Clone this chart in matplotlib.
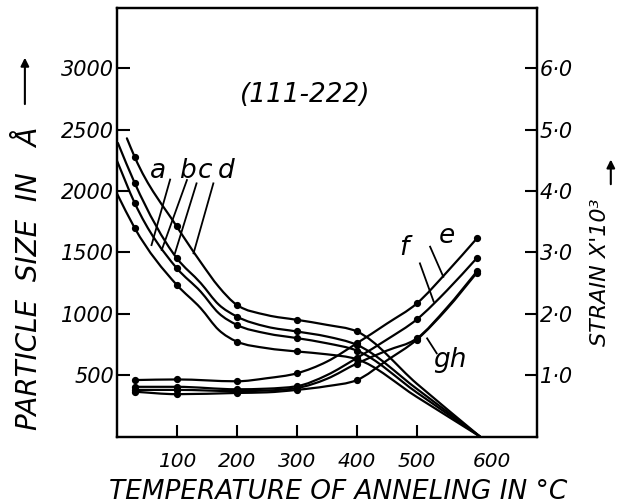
import matplotlib
matplotlib.use("Agg")
import matplotlib.pyplot as plt
import matplotlib.transforms as mtransforms
from matplotlib.path import Path
from matplotlib.patches import PathPatch, FancyArrowPatch

# ---------------- data ----------------
# particle size curves (Angstrom) vs annealing temperature (deg C)
size_x_a = [0, 30, 100, 140, 170, 200, 250, 300, 350, 400, 500, 605]
size_a   = [1985, 1699, 1236, 1045, 868, 774, 720, 693, 670, 630, 322, 0]
size_x_b = [0, 30, 100, 140, 170, 200, 250, 300, 350, 400, 500, 605]
size_b   = [2253, 1903, 1372, 1180, 1005, 910, 840, 802, 760, 700, 358, 0]
size_x_c = [2, 30, 100, 140, 170, 200, 250, 300, 350, 400, 500, 605]
size_c   = [2392, 2066, 1454, 1250, 1075, 978, 895, 856, 815, 747, 388, 0]
size_x_d = [17, 30, 100, 140, 170, 200, 250, 300, 350, 400, 500, 605]
size_d   = [2430, 2278, 1712, 1420, 1220, 1073, 990, 951, 910, 856, 430, 0]
size_marks = [1, 2, 5, 7, 9]          # indices carrying a measured dot

# strain curves (x 10^3)
strain_x = [30, 100, 200, 250, 300, 350, 400, 450, 500, 550, 600]
strain_e = [0.92, 0.93, 0.90, 0.95, 1.03, 1.22, 1.52, 1.84, 2.17, 2.68, 3.23]
strain_f = [0.81, 0.81, 0.77, 0.78, 0.82, 1.00, 1.28, 1.58, 1.91, 2.38, 2.91]
strain_g = [0.76, 0.76, 0.74, 0.75, 0.79, 0.94, 1.19, 1.40, 1.60, 2.10, 2.69]
strain_h = [0.73, 0.69, 0.71, 0.72, 0.76, 0.82, 0.92, 1.24, 1.58, 2.08, 2.67]
strain_marks = [0, 1, 2, 4, 6, 8, 10]

x_ticks = [100, 200, 300, 400, 500, 600]
x_ticklabels = ["100", "200", "300", "400", "500", "600"]
size_ticks = [500, 1000, 1500, 2000, 2500, 3000]
size_ticklabels = ["500", "1000", "1500", "2000", "2500", "3000"]
strain_ticks = [1, 2, 3, 4, 5, 6]
strain_ticklabels = ["1·0", "2·0", "3·0", "4·0", "5·0", "6·0"]


def smooth_path(xs, ys):
    """Monotone cubic (Steffen) Bezier path through the read points."""
    n = len(xs)
    h = [xs[i + 1] - xs[i] for i in range(n - 1)]
    d = [(ys[i + 1] - ys[i]) / h[i] for i in range(n - 1)]
    m = [0.0] * n
    m[0], m[-1] = d[0], d[-1]
    for i in range(1, n - 1):
        if d[i - 1] * d[i] <= 0:
            m[i] = 0.0
        else:
            p = (d[i - 1] * h[i] + d[i] * h[i - 1]) / (h[i - 1] + h[i])
            s = 1 if p > 0 else -1
            m[i] = s * min(abs(p), 2 * abs(d[i - 1]), 2 * abs(d[i]))
    verts = [(xs[0], ys[0])]
    codes = [Path.MOVETO]
    for i in range(n - 1):
        t = h[i] / 3
        verts += [(xs[i] + t, ys[i] + t * m[i]),
                  (xs[i + 1] - t, ys[i + 1] - t * m[i + 1]),
                  (xs[i + 1], ys[i + 1])]
        codes += [Path.CURVE4] * 3
    return Path(verts, codes)


# ---------------- figure ----------------
plt.rcParams['font.family'] = ['DejaVu Sans']
fig = plt.figure(figsize=(6.22, 5.04), dpi=100)
ax = fig.add_axes([0.1876, 0.1339, 0.6757, 0.8502])
ax2 = ax.twinx()

lw = 1.6
for xs, ys in [(size_x_a, size_a), (size_x_b, size_b),
               (size_x_c, size_c), (size_x_d, size_d)]:
    ax.add_patch(PathPatch(smooth_path(xs, ys), fill=False, lw=lw,
                           edgecolor='black', capstyle='round'))
    ax.plot([xs[i] for i in size_marks], [ys[i] for i in size_marks],
            'o', color='black', ms=4.2, ls='none')
for ys in [strain_e, strain_f, strain_g, strain_h]:
    ax2.add_patch(PathPatch(smooth_path(strain_x, ys), fill=False, lw=lw,
                            edgecolor='black', capstyle='round'))
    ax2.plot([strain_x[i] for i in strain_marks], [ys[i] for i in strain_marks],
             'o', color='black', ms=4.2, ls='none')

ax.set_xlim(0, 700)
ax.set_ylim(0, 3492)
ax2.set_ylim(0, 3492 / 500)

tfont = dict(fontsize=15, style='italic')
ax.set_xticks(x_ticks)
ax.set_xticklabels(x_ticklabels, fontsize=14.5, style='italic')
ax.set_yticks(size_ticks)
ax.set_yticklabels(size_ticklabels, **tfont)
ax2.set_yticks(strain_ticks)
ax2.set_yticklabels(strain_ticklabels, **tfont)

ax.tick_params(axis='x', direction='in', length=9, width=1.5, pad=11)
ax.tick_params(axis='y', direction='in', length=9, width=1.5, pad=2)
ax2.tick_params(axis='y', direction='in', length=9, width=1.5, pad=2)
ax.xaxis.get_major_ticks()[-1].tick1line.set_visible(False)
# the hand-lettered "600" sits a little to the right
lab600 = ax.get_xticklabels()[-1]
lab600.set_transform(lab600.get_transform() +
                     mtransforms.ScaledTranslation(0.15, 0, fig.dpi_scale_trans))

for a in (ax, ax2):
    for s in a.spines.values():
        s.set_linewidth(1.6)

# title inside
ax.text(314, 2783, "(111-222)", fontsize=19, style='italic',
        ha='center', va='center')

# curve labels and leader lines
lab_kw = dict(fontsize=19, style='italic', ha='center', va='baseline')
for ch, x in zip("abcd", [69, 117, 147, 183]):
    ax.text(x, 2110, ch, **lab_kw)
for (x0, y0), (x1, y1) in [((89, 2094), (58, 1560)), ((117, 2090), (75, 1520)),
                           ((133, 2063), (97, 1493)), ((161, 2063), (128, 1493))]:
    ax.plot([x0, x1], [y0, y1], color='black', lw=1.3)
ax.text(550, 1577, "e", **lab_kw)
ax.text(478, 1479, "f", **lab_kw)
ax.text(555, 566, "gh", **lab_kw)
for (x0, y0), (x1, y1) in [((522, 1547), (544, 1302)), ((505, 1411), (528, 1099)),
                           ((517, 800), (533, 678))]:
    ax.plot([x0, x1], [y0, y1], color='black', lw=1.3)

# axis titles
fig.text(0.0466, 0.447, "PARTICLE  SIZE  IN   Å", rotation=90, fontsize=20,
         style='italic', ha='center', va='center')
fig.text(0.965, 0.46, "STRAIN X'10³", rotation=90, fontsize=16,
         style='italic', ha='center', va='center')
fig.text(0.543, 0.024, "TEMPERATURE OF ANNELING IN °C", fontsize=19,
         style='italic', ha='center', va='center')

# arrows next to the axis titles
fig.add_artist(FancyArrowPatch(
    (0.040, 0.788), (0.040, 0.891), transform=fig.transFigure,
    arrowstyle='-|>', mutation_scale=12, color='black', lw=1.5))
fig.add_artist(FancyArrowPatch(
    (0.982, 0.629), (0.982, 0.689), transform=fig.transFigure,
    arrowstyle='-|>', mutation_scale=12, color='black', lw=1.5))

fig.savefig("out.png", dpi=100)
